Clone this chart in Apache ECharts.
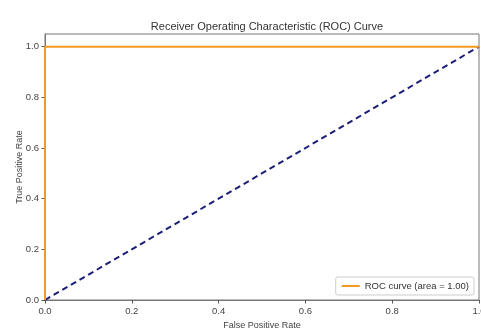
<!DOCTYPE html>
<html><head><meta charset="utf-8">
<script src="https://cdn.jsdelivr.net/npm/echarts@6/dist/echarts.min.js"></script>
<style>html,body{margin:0;padding:0;background:#fff}#c{width:481px;height:329px}</style>
</head><body><div id="c"></div>
<script>
const rocX = [0, 0, 1];
const rocY = [0, 1, 1];
const diagX = [0, 1];
const diagY = [0, 1];
const xTicks = [0, 0.2, 0.4, 0.6, 0.8, 1.0];
const yTicks = [0, 0.2, 0.4, 0.6, 0.8, 1.0];
const titleText = 'Receiver Operating Characteristic (ROC) Curve';
const legendText = 'ROC curve (area = 1.00)';

const chart = echarts.init(document.getElementById('c'), null, {renderer: 'canvas'});
const font = 'Liberation Sans';
chart.setOption({
  animation: false,
  backgroundColor: '#fff',
  title: {text: titleText, left: 262, top: 16, textAlign: 'center',
    textStyle: {fontFamily: font, fontSize: 11, fontWeight: 'normal', color: '#333'}},
  grid: {left: 45, right: 2, top: 34, bottom: 29, show: true, borderColor: '#777', borderWidth: 1,
    outerBoundsMode: 'none', containLabel: false},
  legend: {right: 7, bottom: 34, orient: 'vertical', data: [legendText],
    itemWidth: 18, itemHeight: 2, itemGap: 4,
    backgroundColor: '#fff', borderColor: '#ccc', borderWidth: 1, borderRadius: 2, padding: [4, 5, 4, 6],
    icon: 'rect',
    textStyle: {fontFamily: font, fontSize: 9.5, color: '#333'}},
  xAxis: {type: 'value', min: 0, max: 1, interval: 0.2,
    name: 'False Positive Rate', nameLocation: 'middle', nameGap: 21, nameMoveOverlap: false,
    nameTextStyle: {fontFamily: font, fontSize: 9, color: '#444'},
    axisLine: {show: true, lineStyle: {color: '#777'}},
    axisTick: {show: true, length: 3.5, lineStyle: {color: '#555'}},
    splitLine: {show: false},
    axisLabel: {fontFamily: font, fontSize: 9.5, color: '#444', margin: 6,
      formatter: v => xTicks.includes(+v.toFixed(1)) ? v.toFixed(1) : ''}},
  yAxis: {type: 'value', min: 0, max: 1.05, interval: 0.2,
    name: 'True Positive Rate', nameLocation: 'middle', nameGap: 21, nameMoveOverlap: false,
    nameTextStyle: {fontFamily: font, fontSize: 9, color: '#444'},
    axisLine: {show: true, lineStyle: {color: '#777'}},
    axisTick: {show: true, length: 3.5, lineStyle: {color: '#555'}},
    splitLine: {show: false},
    axisLabel: {fontFamily: font, fontSize: 9.5, color: '#444', margin: 6,
      showMaxLabel: false,
      formatter: v => yTicks.includes(+v.toFixed(1)) && v <= 1.0001 ? v.toFixed(1) : ''}},
  series: [
    {name: legendText, type: 'line', data: rocX.map((x, i) => [x, rocY[i]]),
      showSymbol: false, symbol: 'none', lineStyle: {color: '#f39a25', width: 2}, itemStyle: {color: '#f39a25'}, z: 3},
    {name: 'diag', type: 'line', data: diagX.map((x, i) => [x, diagY[i]]),
      showSymbol: false, symbol: 'none', lineStyle: {color: '#1c1f78', width: 2, type: [6, 4]}, z: 2}
  ]
});
</script></body></html>
